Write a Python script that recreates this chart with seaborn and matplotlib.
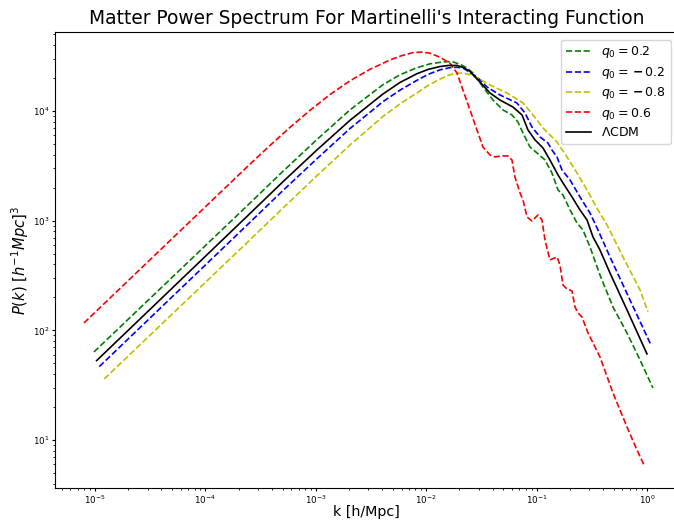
import numpy as np
import pandas as pd
import matplotlib
matplotlib.use("Agg")
import matplotlib.pyplot as plt
import seaborn as sns

# ---- data (log10 k [h/Mpc], log10 P(k)) ----
green_logk = [-5.009, -3.596, -3.297, -2.989, -2.690, -2.391, -2.237, -2.083, -1.965, -1.848,
              -1.800, -1.757, -1.690, -1.630,
              -1.576, -1.486, -1.395, -1.304, -1.223, -1.169, -1.123, -1.060, -0.996, -0.924,
              -0.861, -0.806, -0.761, -0.697, -0.634, -0.580, -0.516, -0.426, -0.308, -0.181,
              -0.063, 0.054]
green_logP = [1.803, 3.160, 3.450, 3.740, 4.010, 4.240, 4.330, 4.395, 4.430, 4.447,
              4.450, 4.447, 4.425, 4.392,
              4.346, 4.219, 4.100, 4.009, 3.964, 3.900, 3.799, 3.672, 3.617, 3.553,
              3.435, 3.280, 3.234, 3.098, 2.979, 2.915, 2.760, 2.505, 2.213, 1.976,
              1.730, 1.475]

blue_logk = [-4.961, -3.596, -3.297, -2.989, -2.690, -2.391, -2.237, -2.083, -1.979, -1.875,
             -1.784, -1.720, -1.667,
             -1.540, -1.449, -1.332, -1.178, -1.105, -1.042, -0.969, -0.897, -0.861, -0.815,
             -0.770, -0.697, -0.607, -0.516, -0.444, -0.335, -0.154, 0.036]
blue_logP = [1.669, 2.985, 3.275, 3.565, 3.840, 4.085, 4.190, 4.280, 4.335, 4.375,
             4.395, 4.398, 4.392,
             4.310, 4.219, 4.146, 4.073, 3.982, 3.854, 3.763, 3.708, 3.644, 3.581,
             3.462, 3.371, 3.216, 3.070, 2.915, 2.669, 2.277, 1.867]

yellow_logk = [-4.916, -3.596, -3.297, -2.989, -2.690, -2.391, -2.237, -2.083, -1.979, -1.875,
               -1.800, -1.757, -1.710, -1.667, -1.600,
               -1.540, -1.422, -1.268, -1.123, -1.033, -0.942, -0.815, -0.725, -0.634, -0.543,
               -0.444, -0.362, -0.217, -0.063, 0.009]
yellow_logP = [1.557, 2.825, 3.115, 3.410, 3.690, 3.950, 4.065, 4.165, 4.235, 4.290,
               4.325, 4.338, 4.345, 4.345, 4.330,
               4.305, 4.237, 4.164, 4.073, 3.964, 3.845, 3.717, 3.581, 3.435, 3.280,
               3.098, 2.961, 2.669, 2.368, 2.168]

red_logk = [-5.100, -3.596, -3.415, -3.234, -3.053, -2.871, -2.690, -2.509, -2.328, -2.220,
            -2.120, -2.040, -1.966, -1.875, -1.784, -1.721, -1.667, -1.603, -1.540, -1.486,
            -1.422, -1.377, -1.313, -1.259, -1.223, -1.196, -1.150, -1.123, -1.087, -1.042,
            -0.987, -0.951, -0.924, -0.879, -0.815, -0.788, -0.761, -0.725, -0.679, -0.652,
            -0.625, -0.589, -0.534, -0.426, -0.308, -0.181, -0.091, -0.027]
red_logP = [2.067, 3.515, 3.685, 3.850, 4.005, 4.150, 4.275, 4.380, 4.465, 4.505,
            4.532, 4.537, 4.527, 4.490, 4.435, 4.346, 4.191, 4.009, 3.827, 3.672,
            3.599, 3.581, 3.590, 3.590, 3.553, 3.398, 3.253, 3.189, 3.034, 2.997,
            3.052, 3.006, 2.824, 2.642, 2.669, 2.596, 2.414, 2.377, 2.359, 2.213,
            2.159, 2.122, 1.976, 1.758, 1.429, 1.119, 0.910, 0.773]

lcdm_logk = [-4.985, -3.596, -3.297, -2.989, -2.690, -2.391, -2.237, -2.083, -1.979, -1.875,
             -1.798, -1.721, -1.660, -1.603,
             -1.513, -1.422, -1.332, -1.214, -1.132, -1.078, -1.014, -0.942, -0.879, -0.806,
             -0.761, -0.679, -0.607, -0.543, -0.489, -0.426, -0.335, -0.181, 0.000]
lcdm_logP = [1.724, 3.065, 3.355, 3.645, 3.915, 4.155, 4.260, 4.340, 4.380, 4.405,
             4.415, 4.415, 4.395, 4.360,
             4.264, 4.164, 4.100, 4.036, 3.964, 3.827, 3.736, 3.663, 3.553, 3.417,
             3.344, 3.216, 3.098, 3.006, 2.851, 2.733, 2.523, 2.186, 1.785]

labels = [r"$q_0 = 0.2$", r"$q_0 = \,\mathbf{-}\,0.2$", r"$q_0 = \,\mathbf{-}\,0.8$",
          r"$q_0 = 0.6$", r"$\Lambda$CDM"]
colors = ["g", "b", "y", "r", "k"]
styles = ["--", "--", "--", "--", "-"]
series = [(green_logk, green_logP), (blue_logk, blue_logP), (yellow_logk, yellow_logP),
          (red_logk, red_logP), (lcdm_logk, lcdm_logP)]

fig = plt.figure(figsize=(6.74, 5.22), dpi=100)
ax = fig.add_axes([55 / 674, 1 - 488 / 522, 623 / 674, 456 / 522])

for (lk, lp), lab, c, ls in zip(series, labels, colors, styles):
    df = pd.DataFrame({"k": 10 ** np.array(lk), "P": 10 ** np.array(lp)})
    sns.lineplot(data=df, x="k", y="P", ax=ax, color=c, linestyle=ls,
                 linewidth=1.2, label=lab, sort=False, estimator=None)

ax.set_xscale("log")
ax.set_yscale("log")
ax.set_xlim(10 ** -5.362, 10 ** 0.281)
ax.set_ylim(10 ** 0.5624, 10 ** 4.720)

ax.tick_params(axis="both", which="major", labelsize=6.3, length=2.5, pad=1.5)
ax.tick_params(axis="both", which="minor", length=1.5)
ax.set_xlabel("k [h/Mpc]", fontsize=10.3)
ax.xaxis.set_label_coords(0.5, -0.038)
ax.set_ylabel(r"$P(k)\ [h^{-1}Mpc]^3$", fontsize=10.6, labelpad=1)
ax.set_title("Matter Power Spectrum For Martinelli's Interacting Function", fontsize=13.4)
ax.legend(loc="upper right", fontsize=9, labelspacing=0.35, borderaxespad=0.6)

fig.savefig("out.png", dpi=100)
